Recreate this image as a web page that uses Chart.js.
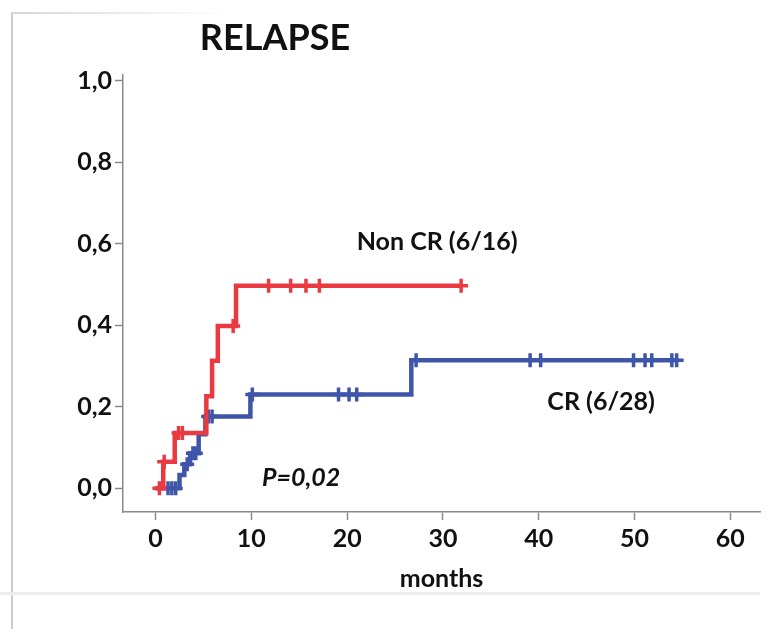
<!DOCTYPE html>
<html>
<head>
<meta charset="utf-8">
<script src="https://cdn.jsdelivr.net/npm/chart.js@4/dist/chart.umd.min.js"></script>
<style>
  html, body { margin: 0; padding: 0; background: #fff; }
  #wrap { position: relative; width: 779px; height: 629px; overflow: hidden; }
  #frameLeft { position: absolute; left: 11px; top: 12px; width: 2px; height: 617px; background: #cccccc; }
  #frameTop { position: absolute; left: 11px; top: 12px; width: 220px; height: 2px;
              background: linear-gradient(to right, #d6d6d6, rgba(230,230,230,0)); }
  #frameBottom { position: absolute; left: 0; top: 592px; width: 760px; height: 3px; background: #ececec; }
  canvas { position: absolute; left: 0; top: 0; }
</style>
</head>
<body>
<div id="wrap">
  <div id="frameLeft"></div>
  <div id="frameTop"></div>
  <div id="frameBottom"></div>
  <canvas id="km" width="779" height="629"></canvas>
</div>
<script>
// Cumulative relapse (1 - Kaplan-Meier) over months of follow-up
const xTicks = [0, 10, 20, 30, 40, 50, 60];
const yTicks = [0, 0.2, 0.4, 0.6, 0.8, 1.0];
const yTickLabels = ['0,0', '0,2', '0,4', '0,6', '0,8', '1,0'];

// Non CR group: step times (months) and cumulative relapse after each step
const nonCrTimes  = [0, 0.8, 2.0, 5.3, 5.9, 6.5, 8.4, 31.9];
const nonCrLevels = [0, 0.065, 0.136, 0.226, 0.313, 0.398, 0.497, 0.497];
// Non CR censored observations
const nonCrCensorTimes  = [0.4, 0.9, 2.4, 2.8, 8.1, 11.8, 14.1, 15.7, 17.1, 31.9];
const nonCrCensorLevels = [0, 0.065, 0.136, 0.136, 0.398, 0.497, 0.497, 0.497, 0.497, 0.497];

// CR group: step times (months) and cumulative relapse after each step
const crTimes  = [0, 2.5, 3.0, 3.6, 4.5, 5.2, 9.9, 26.7, 54.4];
const crLevels = [0, 0.033, 0.059, 0.086, 0.133, 0.176, 0.230, 0.314, 0.314];
// CR censored observations
const crCensorTimes  = [1.3, 1.7, 2.1, 3.3, 3.9, 4.2, 5.5, 5.9, 10.1, 19.1, 20.2, 21.0,
                        27.2, 39.1, 40.2, 49.9, 51.1, 51.8, 53.9, 54.4];
const crCensorLevels = [0, 0, 0, 0.059, 0.086, 0.086, 0.176, 0.176, 0.230, 0.230, 0.230, 0.230,
                        0.314, 0.314, 0.314, 0.314, 0.314, 0.314, 0.314, 0.314];

// Text placed inside the plot (month, cumulative relapse)
const noteTexts   = ['Non CR (6/16)', 'CR (6/28)', 'P=0,02'];
const noteMonths  = [21.0, 40.9, 11.1];
const noteLevels  = [0.604, 0.212, 0.025];
const noteItalic  = [false, false, true];

const RED = '#e83a40';
const BLUE = '#3f55a9';
const AXIS = '#8a8a8a';
const FONT = "Lato, 'Open Sans', sans-serif";

const toPoints = (xs, ys) => xs.map((x, i) => ({ x: x, y: ys[i] }));

const textPlugin = {
  id: 'kmText',
  afterDatasetsDraw(chart) {
    const { ctx, chartArea, scales } = chart;
    ctx.save();
    ctx.fillStyle = '#111';
    ctx.textBaseline = 'middle';
    ctx.textAlign = 'left';
    noteTexts.forEach((t, i) => {
      ctx.font = (noteItalic[i] ? 'italic ' : '') + 'bold 25px ' + FONT;
      ctx.fillText(t, scales.x.getPixelForValue(noteMonths[i]), scales.y.getPixelForValue(noteLevels[i]));
    });
    // chart heading
    ctx.textAlign = 'center';
    ctx.font = 'bold 36px ' + FONT;
    ctx.fillText('RELAPSE', chartArea.left + 152, 38);
    ctx.restore();
  }
};

new Chart(document.getElementById('km'), {
  type: 'scatter',
  data: {
    datasets: [
      {
        label: 'Non CR',
        data: toPoints(nonCrTimes, nonCrLevels),
        showLine: true, stepped: 'before',
        borderColor: RED, borderWidth: 4.5, pointRadius: 0, fill: false
      },
      {
        label: 'Non CR censored',
        data: toPoints(nonCrCensorTimes, nonCrCensorLevels),
        showLine: false, pointStyle: 'cross', pointRadius: 7,
        pointBorderWidth: 3.5, borderColor: RED, backgroundColor: RED
      },
      {
        label: 'CR',
        data: toPoints(crTimes, crLevels),
        showLine: true, stepped: 'before',
        borderColor: BLUE, borderWidth: 4.5, pointRadius: 0, fill: false
      },
      {
        label: 'CR censored',
        data: toPoints(crCensorTimes, crCensorLevels),
        showLine: false, pointStyle: 'cross', pointRadius: 7,
        pointBorderWidth: 3.5, borderColor: BLUE, backgroundColor: BLUE
      }
    ]
  },
  options: {
    responsive: false,
    animation: false,
    devicePixelRatio: 1,
    layout: { padding: { top: 75, right: 19, bottom: 27, left: 0 } },
    plugins: {
      legend: { display: false },
      tooltip: { enabled: false },
      title: { display: false }
    },
    scales: {
      x: {
        type: 'linear',
        min: -3.4, max: 63.1,
        afterBuildTicks: s => { s.ticks = xTicks.map(v => ({ value: v })); },
        afterFit: s => { s.height = 90; },
        grid: { drawOnChartArea: false, drawTicks: true, tickLength: 8, tickWidth: 1.5, color: AXIS },
        border: { display: true, color: AXIS, width: 1.5 },
        ticks: {
          autoSkip: false, maxRotation: 0, padding: 4, color: '#111',
          font: { family: FONT, weight: 'bold', size: 25 },
          callback: v => String(v)
        },
        title: {
          display: true, text: 'months', color: '#111',
          font: { family: FONT, weight: 'bold', size: 25 },
          padding: { top: 0, bottom: 8 }
        }
      },
      y: {
        type: 'linear',
        min: -0.058, max: 1.014,
        afterBuildTicks: s => { s.ticks = yTicks.map(v => ({ value: v })); },
        afterFit: s => { s.width = 123; },
        grid: { drawOnChartArea: false, drawTicks: true, tickLength: 8, tickWidth: 1.5, color: AXIS },
        border: { display: true, color: AXIS, width: 1.5 },
        ticks: {
          autoSkip: false, padding: 3, color: '#111',
          font: { family: FONT, weight: 'bold', size: 25 },
          callback: v => yTickLabels[yTicks.indexOf(v)]
        }
      }
    }
  },
  plugins: [textPlugin]
});
</script>
</body>
</html>
